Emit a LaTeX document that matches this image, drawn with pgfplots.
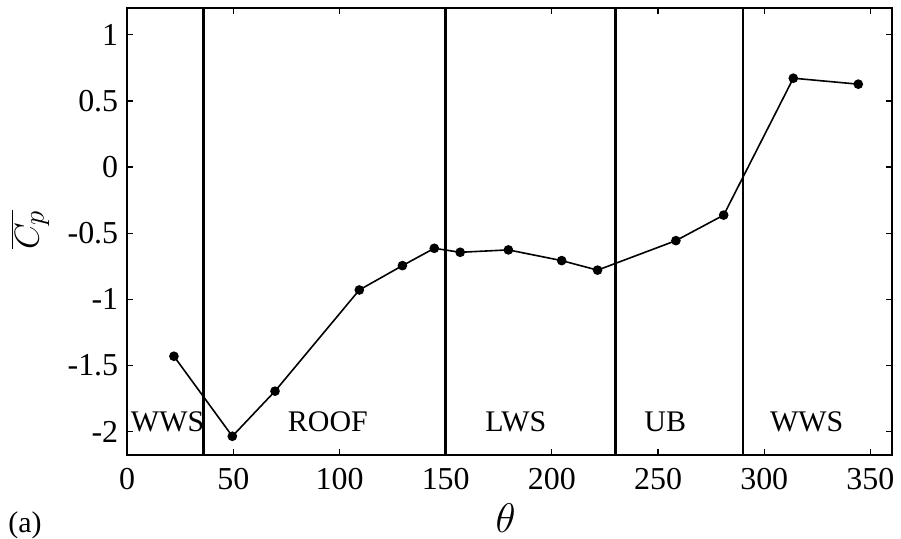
\documentclass[border=0pt]{standalone}
\usepackage{fontspec}
\setmainfont{Liberation Serif}
\usepackage{pgfplots}
\pgfplotsset{compat=1.18}
\begin{document}
\begin{tikzpicture}
\begin{axis}[
  scale only axis,
  width=383pt, height=224pt,
  xmin=0, xmax=360, ymin=-2.18, ymax=1.2,
  xtick={0,50,...,350},
  ytick={-2,-1.5,...,1},
  tick align=inside,
  major tick length=3pt,
  axis line style={line width=1pt},
  every tick/.style={black, line width=0.6pt},
  /pgf/number format/assume math mode=true,
  tick label style={font=\fontsize{16}{18}\selectfont},
  xticklabel style={yshift=-3pt},
  yticklabel style={xshift=-1pt},
  yticklabel={\pgfmathprintnumber[fixed,precision=1]{\tick}},
  xlabel={$\theta$},
  xlabel style={font=\fontsize{21}{23}\selectfont, inner sep=0pt, at={(axis description cs:0.495,-0.141)}, anchor=center},
  ylabel={$\overline{C_p}$},
  ylabel style={font=\fontsize{19}{21}\selectfont, inner sep=0pt, at={(axis description cs:-0.127,0.505)}, anchor=center},
  clip=true,
]
\addplot[black, line width=1.5pt] coordinates {(36,-2.3) (36,1.3)};
\addplot[black, line width=1.5pt] coordinates {(150,-2.3) (150,1.3)};
\addplot[black, line width=1.5pt] coordinates {(230,-2.3) (230,1.3)};
\addplot[black, line width=1.5pt] coordinates {(290,-2.3) (290,1.3)};
\addplot[black, line width=0.8pt, mark=*, mark size=2pt] coordinates {
 (22,-1.43) (49.5,-2.035) (69.6,-1.694) (109.3,-0.929) (129.6,-0.745)
 (144.6,-0.614) (156.8,-0.644) (179.5,-0.626) (204.6,-0.707) (221.5,-0.779)
 (258.4,-0.556) (280.9,-0.363) (313.7,0.672) (344.3,0.627)};
\node[font=\fontsize{15}{17}\selectfont] at (axis cs:19,-1.925) {WWS};
\node[font=\fontsize{15}{17}\selectfont] at (axis cs:94.5,-1.925) {ROOF};
\node[font=\fontsize{15}{17}\selectfont] at (axis cs:183,-1.925) {LWS};
\node[font=\fontsize{15}{17}\selectfont] at (axis cs:253.4,-1.925) {UB};
\node[font=\fontsize{15}{17}\selectfont] at (axis cs:320,-1.925) {WWS};
\end{axis}
\node[font=\fontsize{15}{17}\selectfont, inner sep=0pt] at ([xshift=-51.25pt,yshift=-35pt]current axis.south west) {(a)};
\path ([xshift=-63.75pt,yshift=-40pt]current axis.south west) rectangle ([xshift=3.5pt,yshift=4.2pt]current axis.north east);
\end{tikzpicture}
\end{document}
